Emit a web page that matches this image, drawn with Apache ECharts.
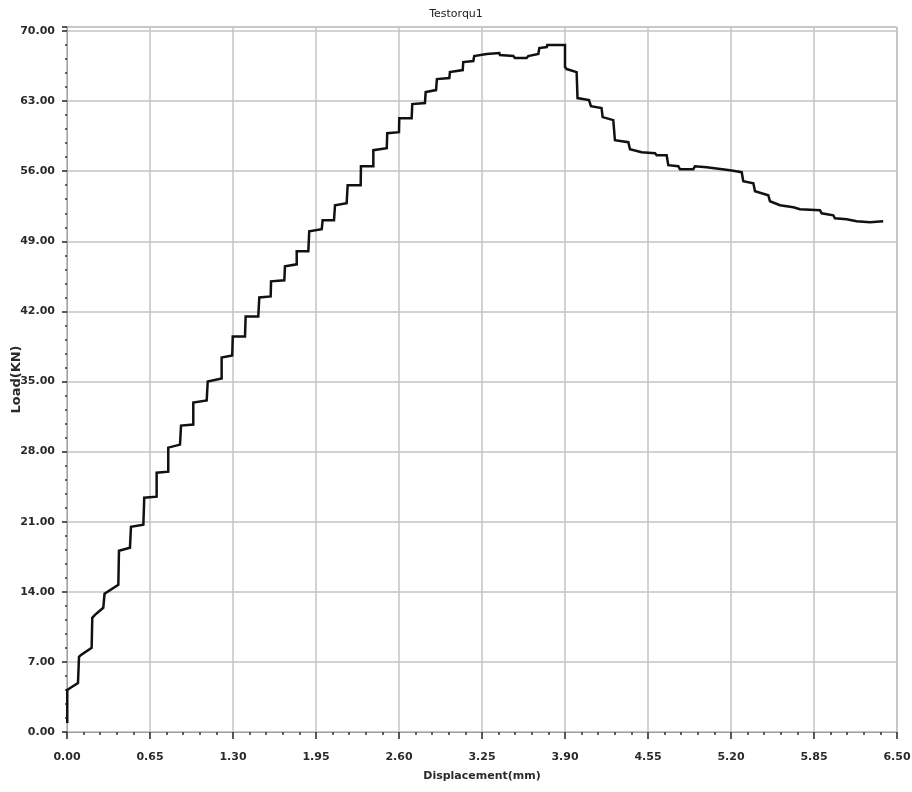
<!DOCTYPE html>
<html>
<head>
<meta charset="utf-8">
<title>Load vs Displacement</title>
<script src="https://cdn.jsdelivr.net/npm/echarts@6/dist/echarts.min.js"></script>
<style>
  html, body { margin: 0; padding: 0; background: #ffffff; }
  #chart { width: 912px; height: 792px; }
</style>
</head>
<body>
<div id="chart"></div>
<script>
// Test record: displacement (mm) and load (kN), corner points of the stepped trace
const displacement = [
  0.002, 0.002, 0.025, 0.086, 0.094, 0.110, 0.193, 0.198, 0.219, 0.284,
  0.294, 0.402, 0.407, 0.493, 0.501, 0.598, 0.605, 0.702, 0.702, 0.793,
  0.793, 0.885, 0.893, 0.989, 0.989, 1.094, 1.102, 1.211, 1.211, 1.294,
  1.298, 1.394, 1.399, 1.498, 1.506, 1.595, 1.598, 1.702, 1.707, 1.799,
  1.799, 1.890, 1.897, 1.995, 2.002, 2.091, 2.099, 2.190, 2.198, 2.300,
  2.302, 2.399, 2.399, 2.504, 2.508, 2.600, 2.602, 2.699, 2.704, 2.803,
  2.809, 2.890, 2.897, 2.994, 2.999, 3.099, 3.103, 3.182, 3.189, 3.287,
  3.386, 3.391, 3.495, 3.508, 3.600, 3.612, 3.691, 3.699, 3.757, 3.761,
  3.900, 3.900, 3.913, 3.991, 3.998, 4.088, 4.103, 4.186, 4.195, 4.278,
  4.291, 4.396, 4.409, 4.500, 4.605, 4.618, 4.696, 4.709, 4.787, 4.800,
  4.905, 4.918, 5.009, 5.192, 5.198, 5.284, 5.296, 5.375, 5.388, 5.492,
  5.505, 5.584, 5.688, 5.740, 5.897, 5.910, 6.001, 6.014, 6.106, 6.184,
  6.288, 6.392
];
const load = [
  0.9, 4.2, 4.4, 4.9, 7.5, 7.7, 8.4, 11.4, 11.7, 12.4,
  13.8, 14.7, 18.1, 18.4, 20.5, 20.7, 23.4, 23.5, 25.9, 26.0,
  28.4, 28.7, 30.6, 30.7, 32.9, 33.1, 35.0, 35.3, 37.4, 37.6,
  39.5, 39.5, 41.5, 41.5, 43.4, 43.5, 45.0, 45.1, 46.5, 46.7,
  48.0, 48.0, 50.0, 50.2, 51.1, 51.1, 52.6, 52.8, 54.6, 54.6,
  56.5, 56.5, 58.1, 58.3, 59.8, 59.9, 61.3, 61.3, 62.7, 62.8,
  63.9, 64.1, 65.2, 65.3, 65.9, 66.1, 66.9, 67.0, 67.5, 67.7,
  67.8, 67.6, 67.5, 67.3, 67.3, 67.5, 67.7, 68.3, 68.4, 68.6,
  68.6, 66.4, 66.2, 65.9, 63.3, 63.1, 62.5, 62.3, 61.4, 61.1,
  59.1, 58.9, 58.2, 57.9, 57.8, 57.6, 57.6, 56.6, 56.5, 56.2,
  56.2, 56.5, 56.4, 56.1, 56.0, 55.9, 55.0, 54.8, 54.0, 53.6,
  53.0, 52.6, 52.4, 52.2, 52.1, 51.8, 51.6, 51.3, 51.2, 51.0,
  50.9, 51.0
];

// Axis scales and labels
const chartTitle = 'Testorqu1';
const xAxisTitle = 'Displacement(mm)';
const yAxisTitle = 'Load(KN)';
const xStep = 0.65, xMax = 6.5;
const yStep = 7, yMax = 70;

const points = displacement.map((d, i) => [d, load[i]]);

const labelFont = {
  fontFamily: 'DejaVu Sans, sans-serif',
  fontWeight: 'bold',
  fontSize: 11,
  color: '#2a2a2a'
};

const chart = echarts.init(document.getElementById('chart'), null, { renderer: 'canvas' });

chart.setOption({
  backgroundColor: '#ffffff',
  animation: false,
  title: {
    text: chartTitle,
    left: 'center',
    top: 4,
    textStyle: { fontFamily: 'DejaVu Sans, sans-serif', fontSize: 11, fontWeight: 'normal', color: '#222' }
  },
  grid: {
    left: 67, right: 15, top: 27, bottom: 60,
    outerBoundsMode: 'none',
    containLabel: false,
    show: true,
    borderColor: '#a8a8a8',
    borderWidth: 1,
    backgroundColor: '#ffffff'
  },
  xAxis: {
    type: 'value',
    min: 0, max: xMax, interval: xStep,
    name: xAxisTitle,
    nameLocation: 'middle',
    nameGap: 39,
    nameMoveOverlap: false,
    nameTextStyle: Object.assign({}, labelFont),
    axisLine: { show: true, lineStyle: { color: '#a0a0a0', width: 1 } },
    axisTick: { show: true, length: 7, lineStyle: { color: '#222', width: 1.5 } },
    minorTick: { show: true, splitNumber: 5, length: 3, lineStyle: { color: '#333', width: 1.5 } },
    splitLine: { show: true, lineStyle: { color: '#c4c4c4', width: 1.5 } },
    axisLabel: Object.assign({ margin: 20, formatter: v => v.toFixed(2) }, labelFont)
  },
  yAxis: {
    type: 'value',
    min: 0, max: yMax + 0.4, interval: yStep,
    name: yAxisTitle,
    nameLocation: 'middle',
    nameRotate: 90,
    nameGap: 44,
    nameMoveOverlap: false,
    nameTextStyle: Object.assign({}, labelFont, { fontSize: 13 }),
    axisLine: { show: true, lineStyle: { color: '#a0a0a0', width: 1 } },
    axisTick: { show: true, length: 5, lineStyle: { color: '#222', width: 1.5 } },
    minorTick: { show: true, splitNumber: 5, length: 2, lineStyle: { color: '#333', width: 1.5 } },
    splitLine: { show: true, lineStyle: { color: '#c4c4c4', width: 1.5 } },
    axisLabel: Object.assign({ margin: 12, showMaxLabel: false, formatter: v => v.toFixed(2) }, labelFont)
  },
  series: [{
    type: 'line',
    data: points,
    showSymbol: false,
    symbol: 'none',
    clip: false,
    lineStyle: { color: '#111111', width: 2.5, join: 'miter', cap: 'butt' }
  }]
});
</script>
</body>
</html>
